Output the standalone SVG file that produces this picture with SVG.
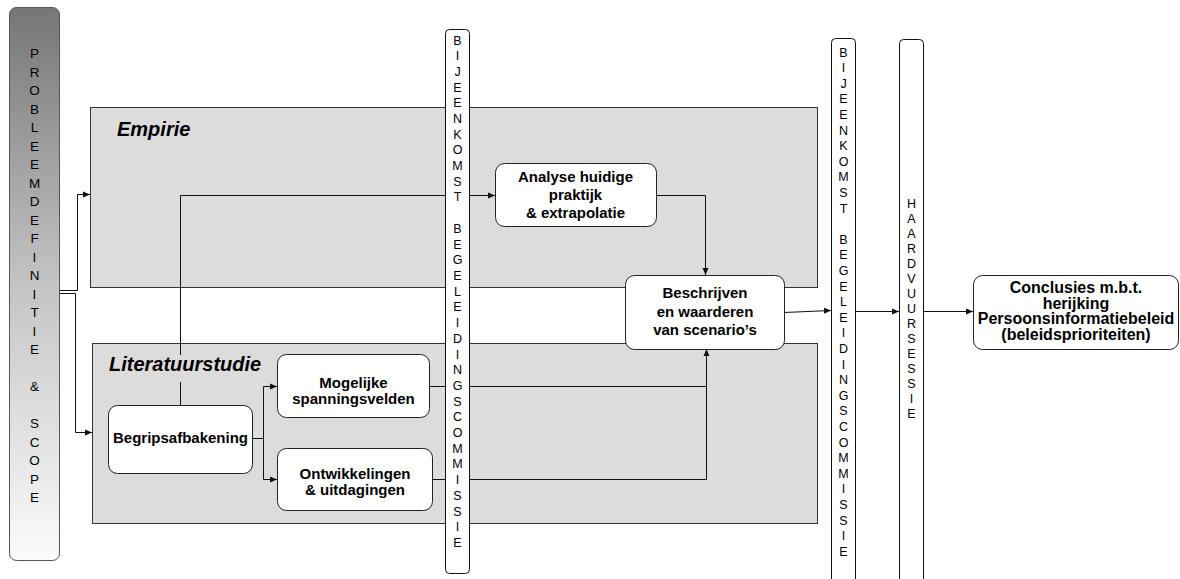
<svg xmlns="http://www.w3.org/2000/svg" width="1180" height="579" viewBox="0 0 1180 579">
<style>
text{font-family:"Liberation Sans",Arial,sans-serif;fill:#000}
.area{fill:#dcdcdc;stroke:#333;stroke-width:1}
.node{fill:#fff;stroke:#222;stroke-width:1}
.bar{fill:#fff;stroke:#111;stroke-width:1}
.lbl{font-size:15px;font-weight:bold;text-anchor:middle}
.title{font-size:20px;font-weight:bold;font-style:italic}
.vt{font-size:12.5px;text-anchor:middle}
.vl{font-size:13.5px;text-anchor:middle}
.c{fill:none;stroke:#111;stroke-width:1}
.a{marker-end:url(#arr)}
</style>
<defs>
<linearGradient id="g" x1="0" y1="0" x2="0" y2="1">
<stop offset="0" stop-color="#767676"/>
<stop offset="0.5" stop-color="#c4c4c4"/>
<stop offset="1" stop-color="#fbfbfb"/>
</linearGradient>
<marker id="arr" markerUnits="userSpaceOnUse" markerWidth="8" markerHeight="8" refX="7" refY="4" orient="auto">
<path d="M0,1 L7,4 L0,7 Z" fill="#111"/>
</marker>
</defs>

<g id="area-empirie">
<rect class="area" x="90.5" y="107.5" width="727" height="180"/>
<text class="title" x="117" y="136">Empirie</text>
</g>
<g id="area-literatuurstudie">
<rect class="area" x="92.5" y="343.5" width="725" height="180"/>
<text class="title" x="109" y="371">Literatuurstudie</text>
</g>

<g id="connectors">
<path class="c a" d="M59,290.5 H77.5 V194.5 H90"/>
<path class="c a" d="M59,293.5 H75.5 V432.5 H92"/>
<path class="c" d="M180.5,405 V382"/>
<path class="c a" d="M180.5,355 V195.5 H495"/>
<path class="c" d="M252,438.5 H263.5"/>
<path class="c a" d="M263.5,438 V386.5 H277"/>
<path class="c a" d="M263.5,438 V479.5 H277"/>
<path class="c" d="M429,386.5 H706.5"/>
<path class="c a" d="M432,479.5 H706.5 V349"/>
<path class="c a" d="M656,195.5 H705.5 V275"/>
<path class="c a" d="M784,312.5 L831,310.5"/>
<path class="c a" d="M855,311.5 H899"/>
<path class="c a" d="M923,311.5 H973"/>
</g>

<g id="probleemdefinitie">
<rect x="9.5" y="7.5" width="50" height="553" rx="7" fill="url(#g)" stroke="#555"/>
<text class="vl" x="34.5" y="58">P<tspan x="34.5" dy="18.5">R</tspan><tspan x="34.5" dy="18.5">O</tspan><tspan x="34.5" dy="18.5">B</tspan><tspan x="34.5" dy="18.5">L</tspan><tspan x="34.5" dy="18.5">E</tspan><tspan x="34.5" dy="18.5">E</tspan><tspan x="34.5" dy="18.5">M</tspan><tspan x="34.5" dy="18.5">D</tspan><tspan x="34.5" dy="18.5">E</tspan><tspan x="34.5" dy="18.5">F</tspan><tspan x="34.5" dy="18.5">I</tspan><tspan x="34.5" dy="18.5">N</tspan><tspan x="34.5" dy="18.5">I</tspan><tspan x="34.5" dy="18.5">T</tspan><tspan x="34.5" dy="18.5">I</tspan><tspan x="34.5" dy="18.5">E</tspan><tspan x="34.5" dy="37">&amp;</tspan><tspan x="34.5" dy="37">S</tspan><tspan x="34.5" dy="18.5">C</tspan><tspan x="34.5" dy="18.5">O</tspan><tspan x="34.5" dy="18.5">P</tspan><tspan x="34.5" dy="18.5">E</tspan></text>
</g>

<g id="begripsafbakening">
<rect class="node" x="108.5" y="405.5" width="144" height="68" rx="9"/>
<text class="lbl" x="180.5" y="443">Begripsafbakening</text>
</g>
<g id="mogelijke">
<rect class="node" x="277.5" y="354.5" width="152" height="63" rx="9"/>
<text class="lbl" x="353.5" y="387.5">Mogelijke<tspan x="353.5" dy="16.5">spanningsvelden</tspan></text>
</g>
<g id="ontwikkelingen">
<rect class="node" x="277.5" y="448.5" width="155" height="62" rx="9"/>
<text class="lbl" x="355" y="478.5">Ontwikkelingen<tspan x="355" dy="16.5">&amp; uitdagingen</tspan></text>
</g>
<g id="analyse">
<rect class="node" x="495.5" y="163.5" width="161" height="63" rx="9"/>
<text class="lbl" x="575.5" y="182">Analyse huidige<tspan x="575.5" dy="18">praktijk</tspan><tspan x="575.5" dy="18">&amp; extrapolatie</tspan></text>
</g>
<g id="beschrijven">
<rect class="node" x="625.5" y="275.5" width="159" height="74" rx="9"/>
<text class="lbl" x="705" y="298">Beschrijven<tspan x="705" dy="18.5">en waarderen</tspan><tspan x="705" dy="18.5">van scenario’s</tspan></text>
</g>
<g id="conclusies">
<rect class="node" x="973.5" y="275.5" width="205" height="74" rx="9"/>
<text class="lbl" x="1076" y="293" style="font-size:16px">Conclusies m.b.t.<tspan x="1076" dy="15.5">herijking</tspan><tspan x="1076" dy="15.5">Persoonsinformatiebeleid</tspan><tspan x="1076" dy="15.5">(beleidsprioriteiten)</tspan></text>
</g>

<g id="bijeenkomst-1">
<rect class="bar" x="445.5" y="29.5" width="24" height="544" rx="4"/>
<text class="vt" x="457.5" y="44.5">B<tspan x="457.5" dy="15.7">I</tspan><tspan x="457.5" dy="15.7">J</tspan><tspan x="457.5" dy="15.7">E</tspan><tspan x="457.5" dy="15.7">E</tspan><tspan x="457.5" dy="15.7">N</tspan><tspan x="457.5" dy="15.7">K</tspan><tspan x="457.5" dy="15.7">O</tspan><tspan x="457.5" dy="15.7">M</tspan><tspan x="457.5" dy="15.7">S</tspan><tspan x="457.5" dy="15.7">T</tspan><tspan x="457.5" dy="31.4">B</tspan><tspan x="457.5" dy="15.7">E</tspan><tspan x="457.5" dy="15.7">G</tspan><tspan x="457.5" dy="15.7">E</tspan><tspan x="457.5" dy="15.7">L</tspan><tspan x="457.5" dy="15.7">E</tspan><tspan x="457.5" dy="15.7">I</tspan><tspan x="457.5" dy="15.7">D</tspan><tspan x="457.5" dy="15.7">I</tspan><tspan x="457.5" dy="15.7">N</tspan><tspan x="457.5" dy="15.7">G</tspan><tspan x="457.5" dy="15.7">S</tspan><tspan x="457.5" dy="15.7">C</tspan><tspan x="457.5" dy="15.7">O</tspan><tspan x="457.5" dy="15.7">M</tspan><tspan x="457.5" dy="15.7">M</tspan><tspan x="457.5" dy="15.7">I</tspan><tspan x="457.5" dy="15.7">S</tspan><tspan x="457.5" dy="15.7">S</tspan><tspan x="457.5" dy="15.7">I</tspan><tspan x="457.5" dy="15.7">E</tspan></text>
</g>

<g id="bijeenkomst-2">
<rect class="bar" x="831.5" y="38.5" width="24" height="560" rx="4"/>
<text class="vt" x="843.5" y="56.5">B<tspan x="843.5" dy="15.6">I</tspan><tspan x="843.5" dy="15.6">J</tspan><tspan x="843.5" dy="15.6">E</tspan><tspan x="843.5" dy="15.6">E</tspan><tspan x="843.5" dy="15.6">N</tspan><tspan x="843.5" dy="15.6">K</tspan><tspan x="843.5" dy="15.6">O</tspan><tspan x="843.5" dy="15.6">M</tspan><tspan x="843.5" dy="15.6">S</tspan><tspan x="843.5" dy="15.6">T</tspan><tspan x="843.5" dy="31.2">B</tspan><tspan x="843.5" dy="15.6">E</tspan><tspan x="843.5" dy="15.6">G</tspan><tspan x="843.5" dy="15.6">E</tspan><tspan x="843.5" dy="15.6">L</tspan><tspan x="843.5" dy="15.6">E</tspan><tspan x="843.5" dy="15.6">I</tspan><tspan x="843.5" dy="15.6">D</tspan><tspan x="843.5" dy="15.6">I</tspan><tspan x="843.5" dy="15.6">N</tspan><tspan x="843.5" dy="15.6">G</tspan><tspan x="843.5" dy="15.6">S</tspan><tspan x="843.5" dy="15.6">C</tspan><tspan x="843.5" dy="15.6">O</tspan><tspan x="843.5" dy="15.6">M</tspan><tspan x="843.5" dy="15.6">M</tspan><tspan x="843.5" dy="15.6">I</tspan><tspan x="843.5" dy="15.6">S</tspan><tspan x="843.5" dy="15.6">S</tspan><tspan x="843.5" dy="15.6">I</tspan><tspan x="843.5" dy="15.6">E</tspan></text>
</g>

<g id="haardvuursessie">
<rect class="bar" x="899.5" y="39.5" width="24" height="560" rx="4"/>
<text class="vt" x="911.5" y="207.5">H<tspan x="911.5" dy="15">A</tspan><tspan x="911.5" dy="15">A</tspan><tspan x="911.5" dy="15">R</tspan><tspan x="911.5" dy="15">D</tspan><tspan x="911.5" dy="15">V</tspan><tspan x="911.5" dy="15">U</tspan><tspan x="911.5" dy="15">U</tspan><tspan x="911.5" dy="15">R</tspan><tspan x="911.5" dy="15">S</tspan><tspan x="911.5" dy="15">E</tspan><tspan x="911.5" dy="15">S</tspan><tspan x="911.5" dy="15">S</tspan><tspan x="911.5" dy="15">I</tspan><tspan x="911.5" dy="15">E</tspan></text>
</g>
</svg>
